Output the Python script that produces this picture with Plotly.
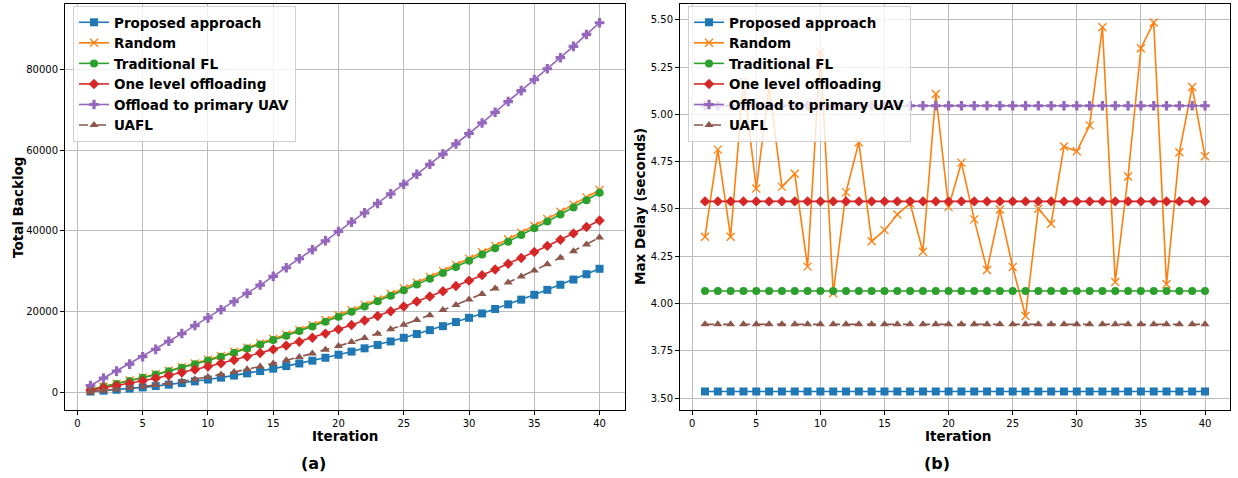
import plotly.graph_objects as go

iterations = list(range(1, 41))

# Total backlog per iteration (left panel)
backlog_proposed = [165, 375, 615, 885, 1185, 1515, 1875, 2265, 2685, 3135,
                    3615, 4125, 4665, 5235, 5835, 6465, 7125, 7815, 8535, 9285,
                    10065, 10875, 11715, 12585, 13485, 14415, 15375, 16365, 17385, 18435,
                    19515, 20625, 21765, 22935, 24135, 25365, 26625, 27915, 29235, 30585]
backlog_random = [680, 1400, 2120, 2880, 3670, 4460, 5330, 6200, 7110, 8050,
                  9000, 10010, 11040, 12100, 13190, 14290, 15450, 16630, 17840, 19070,
                  20340, 21640, 22960, 24330, 25720, 27130, 28580, 30060, 31560, 33110,
                  34670, 36270, 37900, 39550, 41240, 42960, 44700, 46480, 48290, 50120]
backlog_traditional = [660, 1340, 2050, 2790, 3560, 4360, 5190, 6050, 6940, 7860,
                       8810, 9790, 10800, 11840, 12910, 14010, 15140, 16300, 17490, 18710,
                       19960, 21240, 22550, 23890, 25260, 26660, 28090, 29550, 31040, 32560,
                       34110, 35690, 37300, 38940, 40610, 42310, 44040, 45800, 47590, 49410]
backlog_one_level = [500, 1037, 1603, 2197, 2819, 3470, 4150, 4858, 5594, 6359,
                     7153, 7975, 8825, 9704, 10612, 11548, 12512, 13505, 14527, 15577,
                     16655, 17762, 18898, 20062, 21254, 22475, 23725, 25003, 26309, 27644,
                     29008, 30400, 31820, 33269, 34747, 36253, 37787, 39350, 40942, 42562]
backlog_primary = [1660, 3490, 5230, 6970, 8800, 10620, 12620, 14530, 16520, 18430,
                   20450, 22430, 24490, 26550, 28700, 30840, 33070, 35300, 37520, 39830,
                   42140, 44450, 46780, 49150, 51550, 54000, 56480, 58990, 61530, 64110,
                   66720, 69360, 72030, 74740, 77480, 80160, 82890, 85690, 88660, 91550]
backlog_uafl = [165, 412, 698, 1022, 1384, 1785, 2225, 2703, 3219, 3774,
                4368, 5000, 5670, 6379, 7127, 7913, 8737, 9600, 10502, 11442,
                12420, 13437, 14493, 15587, 16719, 17890, 19100, 20348, 21634, 22959,
                24323, 25725, 27165, 28644, 30162, 31718, 33312, 34945, 36617, 38327]

# Max delay per iteration in seconds (right panel)
delay_proposed = [3.535] * 40
delay_random = [4.353, 4.814, 4.353, 5.175, 4.608, 5.145, 4.617, 4.686, 4.195, 5.331,
                4.054, 4.589, 4.853, 4.329, 4.388, 4.471, 4.529, 4.274, 5.108, 4.510,
                4.745, 4.445, 4.177, 4.497, 4.193, 3.934, 4.501, 4.422, 4.830, 4.805,
                4.942, 5.461, 4.114, 4.672, 5.350, 5.486, 4.102, 4.800, 5.145, 4.779]
delay_traditional = [4.066] * 40
delay_one_level = [4.540] * 40
delay_primary = [5.046] * 40
delay_uafl = [3.890] * 40

names = ["Proposed approach", "Random", "Traditional FL", "One level offloading",
         "Offload to primary UAV", "UAFL"]
colors = ["#1f77b4", "#ff7f0e", "#2ca02c", "#d62728", "#9467bd", "#8c564b"]
symbols = ["square", "x-thin", "circle", "diamond", "cross", "triangle-up"]
dashes = ["solid", "solid", "solid", "solid", "solid", "dash"]

left_series = [backlog_proposed, backlog_random, backlog_traditional,
               backlog_one_level, backlog_primary, backlog_uafl]
right_series = [delay_proposed, delay_random, delay_traditional,
                delay_one_level, delay_primary, delay_uafl]

W, H = 1238, 478
FONT = "DejaVu Sans"

fig = go.Figure()


def marker_for(i):
    if symbols[i] == "x-thin":
        return dict(symbol="x-thin", size=8, color=colors[i],
                    line=dict(color=colors[i], width=1.3))
    return dict(symbol=symbols[i], size=8, color=colors[i], line=dict(width=0))


for i, ys in enumerate(left_series):
    fig.add_trace(go.Scatter(
        x=iterations, y=ys, name=names[i], mode="lines+markers",
        line=dict(color=colors[i], width=1.6, dash=dashes[i]),
        marker=marker_for(i), xaxis="x", yaxis="y", legend="legend"))

for i, ys in enumerate(right_series):
    fig.add_trace(go.Scatter(
        x=iterations, y=ys, name=names[i], mode="lines+markers",
        line=dict(color=colors[i], width=1.6, dash=dashes[i]),
        marker=marker_for(i), xaxis="x2", yaxis="y2", legend="legend2"))


def px_x(p):
    return p / W


def px_y(p):
    return 1 - p / H


axis_common = dict(
    showline=True, mirror=True, linecolor="black", linewidth=1,
    ticks="outside", ticklen=4, tickcolor="black", tickwidth=1,
    showgrid=True, gridcolor="#bdbdbd", gridwidth=1, zeroline=False,
    tickfont=dict(family=FONT, size=10, color="black"),
)

legend_font = dict(family=FONT, size=13.5, color="black", weight="bold")

fig.update_layout(
    width=W, height=H,
    margin=dict(l=0, r=0, t=0, b=0),
    paper_bgcolor="white", plot_bgcolor="white",
    font=dict(family=FONT, color="black"),
    xaxis=dict(domain=[px_x(65), px_x(625)], range=[-0.95, 41.95],
               tickmode="array", tickvals=list(range(0, 41, 5)), anchor="y",
               **axis_common),
    yaxis=dict(domain=[px_y(410), px_y(4)], range=[-4410, 96200],
               tickmode="array", tickvals=[0, 20000, 40000, 60000, 80000],
               ticktext=["0", "20000", "40000", "60000", "80000"], anchor="x",
               **axis_common),
    xaxis2=dict(domain=[px_x(680), px_x(1230)], range=[-0.95, 41.95],
                tickmode="array", tickvals=list(range(0, 41, 5)), anchor="y2",
                **axis_common),
    yaxis2=dict(domain=[px_y(410), px_y(4)], range=[3.437, 5.584],
                tickmode="array",
                tickvals=[3.5, 3.75, 4.0, 4.25, 4.5, 4.75, 5.0, 5.25, 5.5],
                ticktext=["3.50", "3.75", "4.00", "4.25", "4.50", "4.75",
                          "5.00", "5.25", "5.50"], anchor="x2",
                **axis_common),
    legend=dict(x=px_x(73), y=px_y(6), xanchor="left", yanchor="top",
                bgcolor="rgba(255,255,255,0.8)", bordercolor="#d0d0d0",
                borderwidth=1, font=legend_font),
    legend2=dict(x=px_x(688), y=px_y(6), xanchor="left", yanchor="top",
                 bgcolor="rgba(255,255,255,0.8)", bordercolor="#d0d0d0",
                 borderwidth=1, font=legend_font),
)

label_font = dict(family=FONT, size=13.5, color="black", weight="bold")
caption_font = dict(family=FONT, size=16, color="black", weight="bold")

annotations = [
    dict(text="Iteration", x=px_x(345), y=px_y(436), font=label_font),
    dict(text="Iteration", x=px_x(958), y=px_y(436), font=label_font),
    dict(text="Total Backlog", x=px_x(18), y=px_y(207), font=label_font,
         textangle=-90),
    dict(text="Max Delay (seconds)", x=px_x(640), y=px_y(207), font=label_font,
         textangle=-90),
    dict(text="(a)", x=px_x(313), y=px_y(463), font=caption_font),
    dict(text="(b)", x=px_x(937), y=px_y(463), font=caption_font),
]
for a in annotations:
    fig.add_annotation(xref="paper", yref="paper", xanchor="center",
                       yanchor="middle", showarrow=False, **a)

fig.write_html("out.html")
